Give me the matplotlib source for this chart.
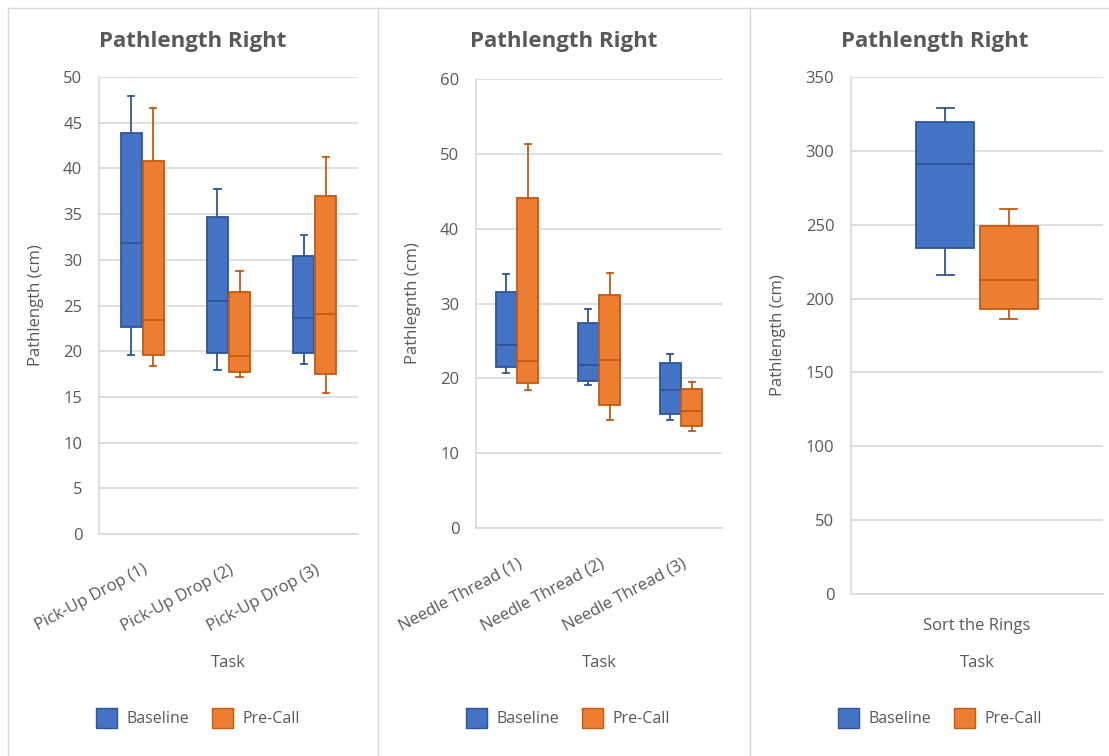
import numpy as np
import matplotlib.pyplot as plt
from matplotlib.lines import Line2D
from matplotlib.patches import Patch

plt.rcParams['font.family'] = ['Open Sans', 'DejaVu Sans']

# box stats per series: [min, Q1, median, Q3, max]
pud_tasks = ['Pick-Up Drop (1)', 'Pick-Up Drop (2)', 'Pick-Up Drop (3)']
pud_base = [[19.6, 22.6, 31.8, 43.9, 47.9],
            [17.9, 19.8, 25.5, 34.7, 37.7],
            [18.6, 19.8, 23.6, 30.4, 32.7]]
pud_pre = [[18.4, 19.6, 23.4, 40.8, 46.6],
           [17.2, 17.7, 19.5, 26.5, 28.8],
           [15.4, 17.5, 24.1, 37.0, 41.3]]

nt_tasks = ['Needle Thread (1)', 'Needle Thread (2)', 'Needle Thread (3)']
nt_base = [[20.7, 21.5, 24.4, 31.6, 33.9],
           [19.1, 19.7, 21.8, 27.4, 29.25],
           [14.4, 15.3, 18.4, 22.0, 23.2]]
nt_pre = [[18.5, 19.4, 22.3, 44.05, 51.25],
          [14.4, 16.4, 22.4, 31.2, 34.1],
          [13.0, 13.65, 15.65, 18.6, 19.5]]

sr_tasks = ['Sort the Rings']
sr_base = [[215.8, 234.5, 291.4, 319.8, 329.3]]
sr_pre = [[186.5, 193.2, 212.9, 248.8, 260.5]]

series_names = ['Baseline', 'Pre-Call']
fills = ['#4472C4', '#ED7D31']
edges = ['#2F5597', '#C55A11']
txt = '#595959'
grid_c = '#D9D9D9'

W, H = 1109, 756
fig = plt.figure(figsize=(W / 100, H / 100), dpi=100)


def px_axes(l, r, b, t):
    return fig.add_axes([l / W, 1 - b / H, (r - l) / W, (b - t) / H])


def stats_of(rows):
    return [dict(whislo=r[0], q1=r[1], med=r[2], q3=r[3], whishi=r[4], fliers=[]) for r in rows]


def draw_panel(ax, tasks, base, pre, ymax, ystep, ylabel, bw, gap, rot, cx_title, cx_leg):
    n = len(tasks)
    x = np.arange(1, n + 1)
    for k, data in enumerate([base, pre]):
        pos = x - bw / 2 - gap / 2 if k == 0 else x + bw / 2 + gap / 2
        ax.bxp(stats_of(data), positions=pos, widths=bw, patch_artist=True,
               showfliers=False, capwidths=bw * 0.3, manage_ticks=False,
               boxprops=dict(facecolor=fills[k], edgecolor=edges[k], linewidth=1.3),
               medianprops=dict(color=edges[k], linewidth=1.3),
               whiskerprops=dict(color=edges[k], linewidth=1.3),
               capprops=dict(color=edges[k], linewidth=1.3))
    ax.set_xlim(0.5, n + 0.5)
    ax.set_ylim(0, ymax)
    ax.set_yticks(np.arange(0, ymax + ystep / 2, ystep))
    ax.yaxis.grid(True, color=grid_c, linewidth=1.2)
    ax.set_axisbelow(True)
    for s in ['top', 'right']:
        ax.spines[s].set_visible(False)
    for s in ['left', 'bottom']:
        ax.spines[s].set_color(grid_c)
        ax.spines[s].set_linewidth(1.2)
    ax.tick_params(length=0, colors=txt, labelsize=12)
    ax.tick_params(axis='y', pad=12)
    ax.set_xticks(x)
    if rot:
        ax.tick_params(axis='x', pad=20)
        ax.set_xticklabels(tasks, rotation=28, ha='right', rotation_mode='anchor')
    else:
        ax.tick_params(axis='x', pad=17)
        ax.set_xticklabels(tasks)
    ax.set_ylabel(ylabel, color=txt, fontsize=12, labelpad=14)
    bb = ax.get_position()
    fig.text((bb.x0 + bb.x1) / 2, 1 - 663 / H, 'Task', color=txt, fontsize=12,
             ha='center', va='center')
    fig.text(cx_title / W, 1 - 41 / H, 'Pathlength Right', color=txt, fontsize=16,
             fontweight='bold', ha='center', va='center')
    handles = [Patch(facecolor=fills[i], edgecolor=edges[i], label=series_names[i]) for i in range(2)]
    fig.legend(handles=handles, loc='center', bbox_to_anchor=(cx_leg / W, 1 - 718 / H),
               ncol=2, frameon=False, fontsize=11.5, labelcolor=txt,
               handlelength=1.3, handleheight=1.6, columnspacing=1.4, handletextpad=0.6)


ax1 = px_axes(99, 358, 534, 77)
draw_panel(ax1, pud_tasks, pud_base, pud_pre, 50, 5, 'Pathlength (cm)', 0.245, 0.01, True, 193, 198)
ax2 = px_axes(476, 722, 528, 79)
draw_panel(ax2, nt_tasks, nt_base, nt_pre, 60, 10, 'Pathlegnth (cm)', 0.25, 0.01, True, 564, 568)
ax3 = px_axes(851, 1103, 594, 77)
draw_panel(ax3, sr_tasks, sr_base, sr_pre, 350, 50, 'Pathlength (cm)', 0.23, 0.022, False, 935, 940)

# chart area borders
border = '#D9D9D9'
fig.add_artist(Line2D([8 / W, 1], [1 - 8 / H, 1 - 8 / H], color=border, lw=1))
for xp in [8, 378, 750]:
    fig.add_artist(Line2D([xp / W, xp / W], [0, 1 - 8 / H], color=border, lw=1))

fig.savefig('out.png', dpi=100)
